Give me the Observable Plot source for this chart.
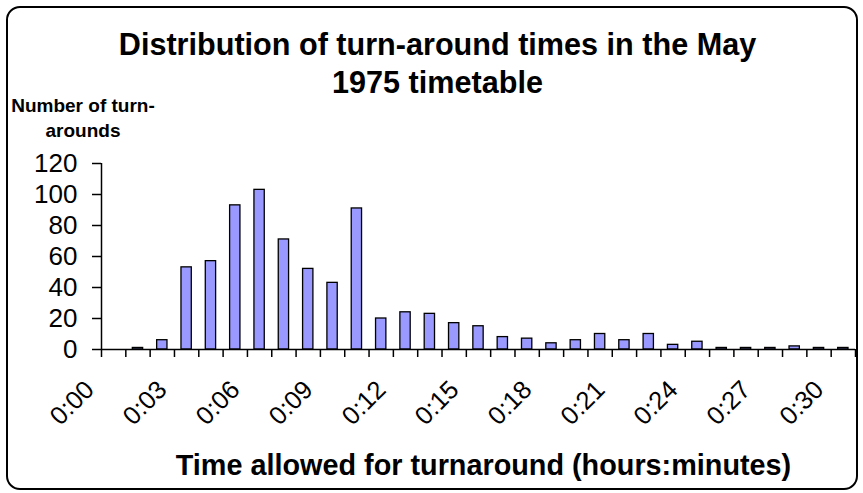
<!DOCTYPE html>
<html>
<head>
<meta charset="utf-8">
<script src="https://cdn.jsdelivr.net/npm/d3@7"></script>
<script src="https://cdn.jsdelivr.net/npm/@observablehq/plot@0.6"></script>
<style>
  html, body { margin: 0; padding: 0; background: #fff; }
  #wrap { position: relative; width: 863px; height: 493px; overflow: hidden; font-family: "Liberation Sans", Arial, sans-serif; color: #000; }
  #wrap svg { position: absolute; left: 0; top: 0; }
  .frame { position: absolute; left: 6px; top: 6px; width: 852px; height: 484px; box-sizing: border-box; border: 2px solid #000; border-radius: 14px; pointer-events: none; }
  .t { position: absolute; white-space: nowrap; text-align: center; font-weight: bold; }
  #title { left: 0; width: 875px; top: 25.3px; font-size: 30.6px; line-height: 38px; }
  #ylab { left: 0; width: 166px; top: 92.6px; font-size: 19px; line-height: 25px; }
  #xlab { left: 100px; width: 767px; top: 451px; font-size: 28.8px; line-height: 28px; }
</style>
</head>
<body>
<div id="wrap"></div>
<script>
// Minutes allowed for turnaround (bins 0:00 .. 0:30)
const minutes = d3.range(0, 31);
const counts = [0, 1, 6, 53, 57, 93, 103, 71, 52, 43, 91, 20, 24, 23, 17, 15, 8, 7, 4, 6, 10, 6, 10, 3, 5, 1, 1, 1, 2, 1, 1];
const yTicks = [0, 20, 40, 60, 80, 100, 120];
const xTickLabels = ["0:00", "0:03", "0:06", "0:09", "0:12", "0:15", "0:18", "0:21", "0:24", "0:27", "0:30"];
const xTickMinutes = [0, 3, 6, 9, 12, 15, 18, 21, 24, 27, 30];
const titleLines = ["Distribution of turn-around times in the May", "1975 timetable"];
const yLabelLines = ["Number of turn-", "arounds"];
const xLabel = "Time allowed for turnaround (hours:minutes)";

const bars = minutes.map((m, i) => ({m, count: counts[i]}));
const labels = xTickMinutes.map((m, i) => ({mid: m + 0.5, text: xTickLabels[i]}));
const boundaries = d3.range(0, minutes.length + 1);

const chart = Plot.plot({
  width: 863,
  height: 493,
  marginLeft: 101,
  marginRight: 8,
  marginTop: 163,
  marginBottom: 144,
  style: {fontFamily: "'Liberation Sans', Arial, sans-serif", color: "#000", background: "transparent"},
  x: {type: "linear", domain: [0, minutes.length]},
  y: {domain: [0, 120]},
  marks: [
    Plot.rectY(bars, {x1: "m", x2: d => d.m + 1, y: "count", insetLeft: 7, insetRight: 7, fill: "#9999FF", stroke: "#000", strokeWidth: 1.3}),
    Plot.ruleY([0], {stroke: "#000", strokeWidth: 1.5}),
    Plot.ruleX([0], {stroke: "#000", strokeWidth: 1.5}),
    Plot.axisY({ticks: yTicks, tickSize: 9, tickPadding: 15, fontSize: 26, label: null, stroke: "#000", strokeWidth: 1.5}),
    Plot.axisX({ticks: boundaries, tickSize: 8, tickFormat: () => "", label: null, stroke: "#000", strokeWidth: 1.5}),
    Plot.text(labels, {x: "mid", y: () => 0, text: "text", rotate: -45, textAnchor: "end", dx: -24, dy: 36, fontSize: 25.5, fill: "#000"})
  ]
});

const wrap = document.getElementById("wrap");
wrap.appendChild(chart);

function addText(id, lines) {
  const d = document.createElement("div");
  d.className = "t";
  d.id = id;
  d.innerHTML = lines.join("<br>");
  wrap.appendChild(d);
}
addText("title", titleLines);
addText("ylab", yLabelLines);
addText("xlab", [xLabel]);
const fr = document.createElement("div");
fr.className = "frame";
wrap.appendChild(fr);
</script>
</body>
</html>
